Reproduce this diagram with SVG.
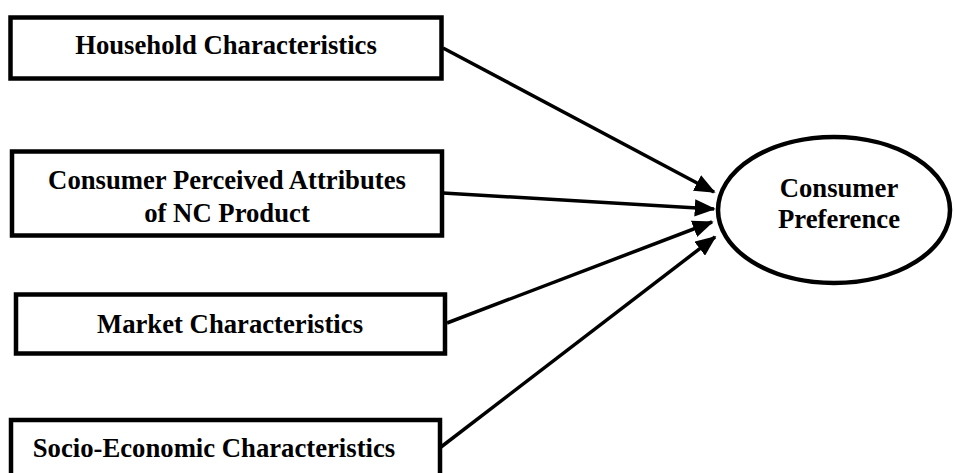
<svg xmlns="http://www.w3.org/2000/svg" width="955" height="473" viewBox="0 0 955 473">
<defs>
<style>
.box{fill:#fff;stroke:#000;stroke-width:4.5;}
.lbl{font-family:"Liberation Serif","Times New Roman",serif;font-weight:bold;font-size:26.7px;fill:#000;text-anchor:middle;}
.con{stroke:#000;stroke-width:3.5;fill:none;}
</style>
<marker id="ah" markerWidth="6" markerHeight="5" refX="5.5" refY="2.5" orient="auto" markerUnits="strokeWidth">
<path d="M0,0 L6,2.5 L0,5 Z" fill="#000"/>
</marker>
</defs>
<rect width="955" height="473" fill="#fff"/>
<g id="connectors">
<line class="con" x1="443" y1="48" x2="714" y2="192" marker-end="url(#ah)"/>
<line class="con" x1="443" y1="193" x2="714" y2="209" marker-end="url(#ah)"/>
<line class="con" x1="447" y1="323" x2="712" y2="222" marker-end="url(#ah)"/>
<line class="con" x1="441" y1="447" x2="715" y2="237" marker-end="url(#ah)"/>
</g>
<g id="household">
<rect class="box" x="10.5" y="17.5" width="431" height="61"/>
<text class="lbl" x="226" y="54">Household Characteristics</text>
</g>
<g id="perceived">
<rect class="box" x="12" y="151.5" width="430" height="84"/>
<text class="lbl" x="227" y="189">Consumer Perceived Attributes</text>
<text class="lbl" x="227" y="222">of NC Product</text>
</g>
<g id="market">
<rect class="box" x="16" y="294.5" width="429" height="59"/>
<text class="lbl" x="230" y="333">Market Characteristics</text>
</g>
<g id="socio">
<rect class="box" x="11" y="420" width="429" height="70"/>
<text class="lbl" x="214" y="457">Socio-Economic Characteristics</text>
</g>
<g id="preference">
<ellipse class="box" cx="834" cy="210" rx="116" ry="73"/>
<text class="lbl" x="839" y="197">Consumer</text>
<text class="lbl" x="839" y="228">Preference</text>
</g>
</svg>
